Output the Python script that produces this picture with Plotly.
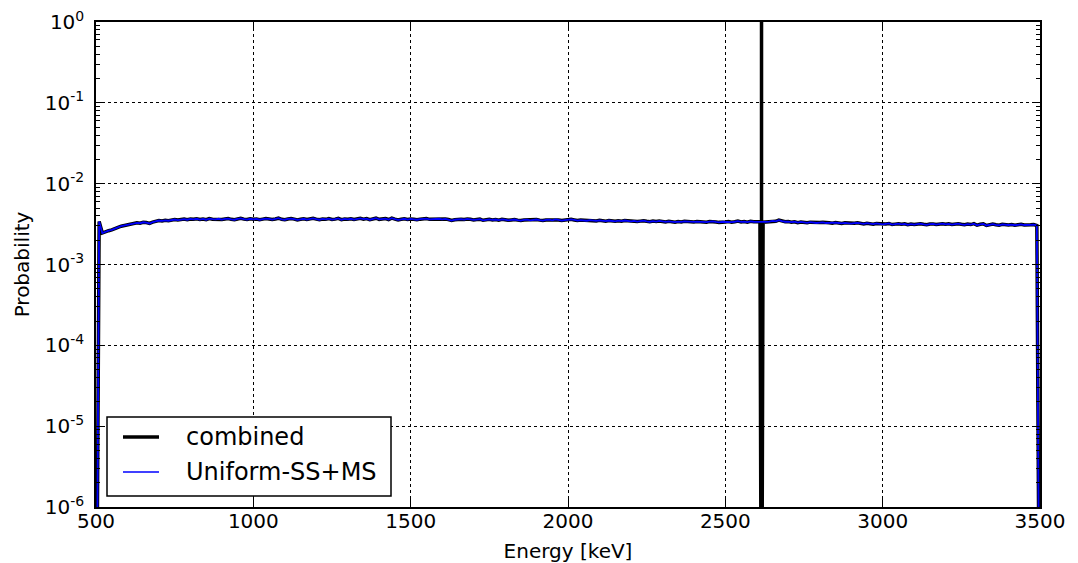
import numpy as np
import plotly.graph_objects as go

# Energy grid [keV]
energy = list(range(500, 3501, 10))

# Uniform-SS+MS probability (units of 1e-3)
uniform_e3 = [
    0.0,
    3.40, 2.45, 2.55, 2.62, 2.68, 2.75, 2.88, 2.98, 3.05,
    3.12, 3.18, 3.22, 3.28, 3.24, 3.33, 3.30, 3.22, 3.35, 3.42,
    3.50, 3.46, 3.52, 3.48, 3.56, 3.60, 3.55, 3.62, 3.65, 3.58,
    3.66, 3.62, 3.68, 3.60, 3.66, 3.58, 3.70, 3.64, 3.62, 3.68,
    3.60, 3.66, 3.70, 3.62, 3.58, 3.66, 3.72, 3.64, 3.60, 3.68,
    3.62, 3.66, 3.58, 3.64, 3.70, 3.66, 3.60, 3.66, 3.74, 3.62,
    3.58, 3.66, 3.70, 3.64, 3.56, 3.62, 3.68, 3.60, 3.66, 3.72,
    3.64, 3.58, 3.66, 3.62, 3.70, 3.60, 3.64, 3.72, 3.58, 3.66,
    3.62, 3.68, 3.60, 3.66, 3.72, 3.64, 3.70, 3.58, 3.66, 3.74,
    3.62, 3.66, 3.70, 3.60, 3.74, 3.64, 3.56, 3.62, 3.68, 3.60,
    3.66, 3.62, 3.58, 3.64, 3.66, 3.70, 3.62, 3.64, 3.60, 3.68,
    3.62, 3.66, 3.60, 3.50, 3.58, 3.62, 3.64, 3.60, 3.66, 3.62,
    3.56, 3.60, 3.64, 3.52, 3.58, 3.62, 3.56, 3.60, 3.54, 3.62,
    3.58, 3.52, 3.56, 3.60, 3.54, 3.50, 3.56, 3.58, 3.52, 3.56,
    3.60, 3.54, 3.50, 3.56, 3.58, 3.52, 3.62, 3.56, 3.50, 3.54,
    3.58, 3.62, 3.56, 3.50, 3.54, 3.52, 3.48, 3.54, 3.50, 3.46,
    3.52, 3.48, 3.44, 3.50, 3.46, 3.42, 3.48, 3.44, 3.50, 3.46,
    3.42, 3.46, 3.40, 3.44, 3.48, 3.42, 3.38, 3.44, 3.40, 3.46,
    3.40, 3.36, 3.42, 3.38, 3.34, 3.40, 3.36, 3.42, 3.38, 3.34,
    3.36, 3.40, 3.36, 3.38, 3.34, 3.40, 3.42, 3.36, 3.32, 3.38,
    3.36, 3.40, 3.34, 3.38, 3.44, 3.36, 3.40, 3.34, 3.42, 3.38,
    3.36, 3.40, 3.34, 3.36, 3.40, 3.46, 3.42, 3.54, 3.44, 3.38,
    3.40, 3.34, 3.38, 3.30, 3.36, 3.32, 3.28, 3.34, 3.30, 3.26,
    3.30, 3.32, 3.26, 3.28, 3.24, 3.30, 3.26, 3.22, 3.28, 3.24,
    3.20, 3.24, 3.28, 3.22, 3.18, 3.24, 3.20, 3.16, 3.22, 3.18,
    3.14, 3.18, 3.22, 3.12, 3.16, 3.20, 3.14, 3.18, 3.10, 3.16,
    3.12, 3.16, 3.20, 3.14, 3.10, 3.16, 3.18, 3.12, 3.16, 3.20,
    3.14, 3.18, 3.12, 3.16, 3.20, 3.14, 3.10, 3.16, 3.12, 3.20,
    3.06, 3.14, 3.18, 3.04, 3.12, 3.16, 3.10, 3.06, 3.14, 3.10,
    3.08, 3.12, 3.06, 3.10, 3.14, 3.08, 3.06, 3.10, 3.12, 3.04,
    0.0,
]

# Gamma line added in the combined spectrum
peak_energy = 2615
peak_prob = 10.0

series_names = ["combined", "Uniform-SS+MS"]
series_colors = ["black", "#0000ff"]

y_tickvals = [1e-6, 1e-5, 1e-4, 1e-3, 1e-2, 1e-1, 1]
y_ticktext = ["10<sup>-6</sup>", "10<sup>-5</sup>", "10<sup>-4</sup>", "10<sup>-3</sup>",
              "10<sup>-2</sup>", "10<sup>-1</sup>", "10<sup>0</sup>"]
x_tickvals = [500, 1000, 1500, 2000, 2500, 3000, 3500]

floor = 1e-9  # stand-in for zero on log axis
uniform = [max(v * 1e-3, floor) for v in uniform_e3]

# combined: uniform + delta peak
comb_x, comb_y = [], []
for e, v in zip(energy, uniform):
    if e > peak_energy and (len(comb_x) == 0 or comb_x[-1] < peak_energy):
        comb_x += [peak_energy, peak_energy, peak_energy]
        comb_y += [floor, peak_prob, floor]
    comb_x.append(e)
    comb_y.append(v)

font = "DejaVu Sans"
fig = go.Figure()
fig.add_trace(go.Scatter(x=comb_x, y=comb_y, mode="lines", name=series_names[0],
                         line=dict(color=series_colors[0], width=3.5), showlegend=False))
fig.add_trace(go.Scatter(x=energy, y=uniform, mode="lines", name=series_names[1],
                         line=dict(color=series_colors[1], width=1.8), showlegend=False))

axis_common = dict(showline=True, linecolor="black", linewidth=1.5, mirror="allticks",
                   ticks="inside", tickcolor="black", ticklen=8, tickwidth=1,
                   showgrid=True, gridcolor="black", griddash="dot", gridwidth=1,
                   zeroline=False, automargin=False,
                   tickfont=dict(family=font, size=20, color="black"))

fig.update_xaxes(range=[500, 3500], tickvals=x_tickvals, ticklabelstandoff=-5,
                 title=dict(text="Energy [keV]", font=dict(family=font, size=20, color="black"),
                            standoff=19),
                 **axis_common)
fig.update_yaxes(type="log", range=[-6, 0], tickvals=y_tickvals, ticktext=y_ticktext,
                 ticklabelstandoff=6,
                 minor=dict(ticks="inside", ticklen=4, tickcolor="black", showgrid=False,
                            tickvals=[m * 10.0 ** k for k in range(-6, 0) for m in range(2, 10)]),
                 title=dict(text="Probability", font=dict(family=font, size=20, color="black"),
                            standoff=10),
                 **axis_common)

# Manual legend (matplotlib-like box with long line samples)
L = 96; R = 1040; T = 22; B = 507
def px(x): return (x - L) / (R - L)
def py(y): return (B - y) / (B - T)

shapes = [dict(type="rect", xref="paper", yref="paper",
               x0=px(107), x1=px(391), y0=py(496), y1=py(417),
               line=dict(color="black", width=1.5), fillcolor="white", layer="above")]
annotations = []
row_y = [437, 472]
row_w = [3.5, 1.5]
for name, col, yy, w in zip(series_names, series_colors, row_y, row_w):
    shapes.append(dict(type="line", xref="paper", yref="paper",
                       x0=px(123), x1=px(159), y0=py(yy), y1=py(yy),
                       line=dict(color=col, width=w), layer="above"))
    annotations.append(dict(xref="paper", yref="paper", x=px(184), y=py(yy),
                            xanchor="left", yanchor="middle", showarrow=False,
                            text=name, font=dict(family=font, size=24, color="black")))

fig.update_layout(
    width=1078, height=563,
    margin=dict(l=L, r=1078 - R, t=T, b=563 - B),
    paper_bgcolor="white", plot_bgcolor="white",
    font=dict(family=font, color="black"),
    shapes=shapes, annotations=annotations,
    showlegend=False,
)

fig.write_html("out.html")
